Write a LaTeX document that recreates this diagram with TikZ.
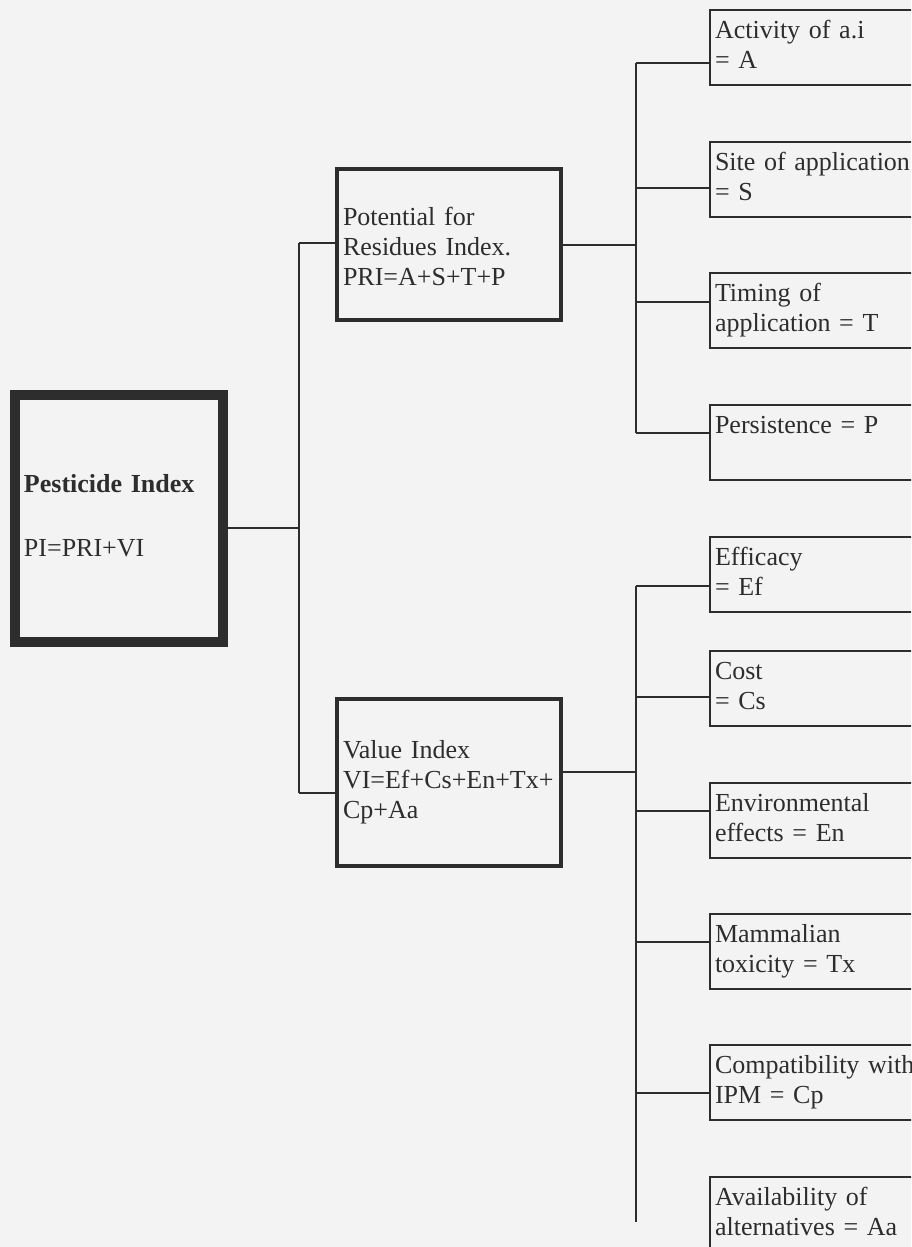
\documentclass[tikz,border=0pt]{standalone}
\usepackage{fontspec}
\setmainfont{Liberation Serif}
\definecolor{ink}{RGB}{45,45,45}
\definecolor{paper}{RGB}{243,243,243}
\begin{document}
\begin{tikzpicture}[x=0.5pt,y=-0.5pt,
  every node/.style={font=\fontsize{13}{15}\selectfont, text=ink},
  mainbox/.style={draw=ink, line width=5pt, outer sep=0pt, inner xsep=4.5pt,
    inner ysep=0pt, minimum width=104pt, minimum height=123.5pt,
    text width=95pt, align=left},
  midbox/.style={draw=ink, line width=2pt, outer sep=0pt, inner xsep=3pt,
    inner ysep=0pt, minimum width=112pt, text width=106pt, align=left},
  leafbox/.style={draw=ink, line width=1pt, outer sep=0pt, inner xsep=2.5pt,
    inner ysep=0pt, minimum height=37.5pt, text width=125pt, align=left,
    anchor=north west},
  link/.style={draw=ink, line width=1.1pt}]

\useasboundingbox (0,0) rectangle (911,1247);
\fill[paper] (0,0) rectangle (911,1247);
\clip (0,0) rectangle (911,1247);

% root and the two index boxes
\node[mainbox] (pest) at (119,518.5)
  {\strut\textbf{Pesticide Index}\\[17pt]\strut PI=PRI+VI};
\node[midbox, minimum height=75.5pt] (pri) at (449,244.5)
  {\rule{0pt}{15.5pt}Potential for\\\strut Residues Index.\\\strut PRI=A+S+T+P};
\node[midbox, minimum height=83.5pt] (vi) at (449,782.5)
  {\strut Value Index\\\strut VI=Ef+Cs+En+Tx+\\\strut Cp+Aa};

% components of the residues index
\node[leafbox] (a) at (710,10)  {\strut Activity of a.i\\\strut = A};
\node[leafbox] (s) at (710,142) {\strut Site of application\\\strut = S};
\node[leafbox] (t) at (710,273) {\strut Timing of\\\strut application = T};
\node[leafbox] (p) at (710,405) {\strut Persistence = P\\\strut};

% components of the value index
\node[leafbox] (ef) at (710,537)  {\strut Efficacy\\\strut = Ef};
\node[leafbox] (cs) at (710,651)  {\strut Cost\\\strut = Cs};
\node[leafbox] (en) at (710,783)  {\strut Environmental\\\strut effects = En};
\node[leafbox] (tx) at (710,914)  {\strut Mammalian\\\strut toxicity = Tx};
\node[leafbox] (cp) at (710,1045) {\strut Compatibility with\\\strut IPM = Cp};
\node[leafbox] (aa) at (710,1177) {\strut Availability of\\\strut alternatives = Aa};

% root bracket
\coordinate (j0) at (299,528);
\coordinate (jt) at (299,243);
\coordinate (jb) at (299,793);
\draw[link] (pest.east |- j0) -- (j0);
\draw[link] (jt) -- (jb);
\draw[link] (jt) -- (jt -| pri.west);
\draw[link] (jb) -- (jb -| vi.west);

% residues bracket
\coordinate (k0) at (636,245);
\coordinate (kt) at (636,63);
\coordinate (kb) at (636,433);
\draw[link] (pri.east |- k0) -- (k0);
\draw[link] (kt) -- (kb);
\foreach \n/\yy in {a/63, s/188, t/302, p/433} {
  \coordinate (b\n) at (636,\yy);
  \draw[link] (b\n) -- (b\n -| \n.west);
}

% value bracket
\coordinate (m0) at (636,772);
\coordinate (mt) at (636,586);
\coordinate (mb) at (636,1222);
\draw[link] (vi.east |- m0) -- (m0);
\draw[link] (mt) -- (mb);
\foreach \n/\yy in {ef/586, cs/697, en/811, tx/942, cp/1093} {
  \coordinate (b\n) at (636,\yy);
  \draw[link] (b\n) -- (b\n -| \n.west);
}
\end{tikzpicture}
\end{document}
